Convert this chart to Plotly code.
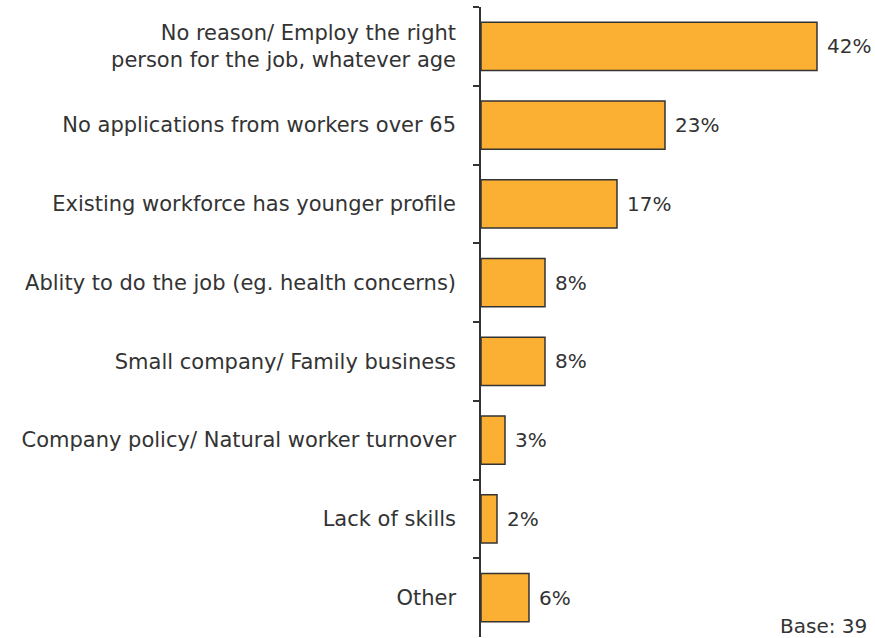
import plotly.graph_objects as go

# Reasons given, top to bottom, with share of respondents (%)
reasons = [
    "No reason/ Employ the right<br>person for the job, whatever age",
    "No applications from workers over 65",
    "Existing workforce has younger profile",
    "Ablity to do the job (eg. health concerns)",
    "Small company/ Family business",
    "Company policy/ Natural worker turnover",
    "Lack of skills",
    "Other",
]
shares = [42, 23, 17, 8, 8, 3, 2, 6]
base_note = "Base: 39"

FONT = "DejaVu Sans"
TEXT = "#333333"

fig = go.Figure(
    go.Bar(
        x=shares,
        y=reasons,
        orientation="h",
        width=0.61,
        marker=dict(color="#FBB034", line=dict(color="#333333", width=1.5)),
        hoverinfo="skip",
    )
)

# value labels just past the end of each bar
for r, v in zip(reasons, shares):
    fig.add_annotation(
        x=v, y=r, text=f"{v}%", showarrow=False,
        xanchor="left", yanchor="middle", xshift=8,
        font=dict(family=FONT, size=20, color=TEXT),
    )

fig.add_annotation(
    x=1, y=0, xref="paper", yref="paper", text=base_note, showarrow=False,
    xanchor="left", yanchor="bottom", xshift=-97, yshift=-3,
    font=dict(family=FONT, size=20, color=TEXT),
)

fig.update_layout(
    width=875, height=638,
    margin=dict(l=481, r=0, t=7, b=1),
    plot_bgcolor="white", paper_bgcolor="white",
    showlegend=False,
    xaxis=dict(range=[0, 49.25], visible=False, fixedrange=True),
    yaxis=dict(
        autorange="reversed",
        showline=True, linecolor="#333333", linewidth=1.5,
        ticks="outside", tickson="boundaries", ticklen=6, tickwidth=1.5, tickcolor="#333333",
        ticklabelstandoff=19,
        tickfont=dict(family=FONT, size=21, color=TEXT),
        showgrid=False, zeroline=False,
    ),
)

fig.write_html("out.html")
